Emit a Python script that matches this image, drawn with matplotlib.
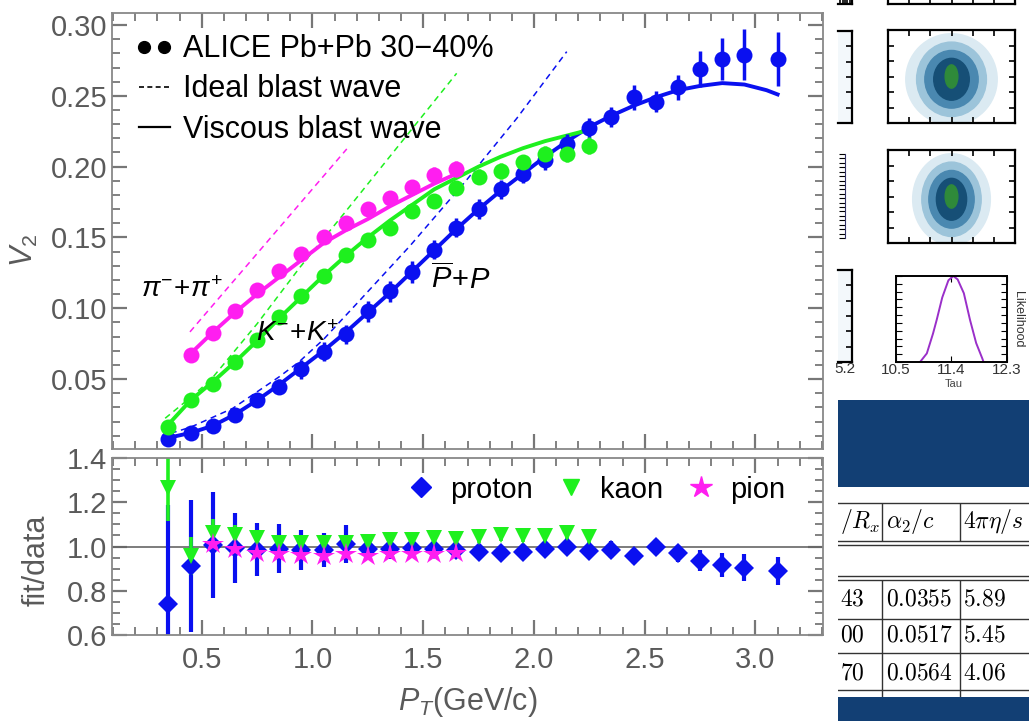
import numpy as np
import matplotlib.pyplot as plt
from matplotlib.lines import Line2D
from matplotlib.patches import Ellipse
from matplotlib.ticker import MultipleLocator
from matplotlib.legend_handler import HandlerLine2D

plt.rcParams['font.family'] = ['Liberation Sans', 'DejaVu Sans']
plt.rcParams['mathtext.fontset'] = 'custom'
plt.rcParams['mathtext.it'] = 'Liberation Sans:italic'
plt.rcParams['mathtext.rm'] = 'Liberation Sans'
plt.rcParams['mathtext.bf'] = 'Liberation Sans:bold'

# ---- v2 data (ALICE Pb+Pb 30-40%) ----
pt_p = [0.35, 0.45, 0.55, 0.65, 0.75, 0.85, 0.95, 1.05, 1.15, 1.25, 1.35, 1.45, 1.55, 1.65,
        1.75, 1.85, 1.95, 2.05, 2.15, 2.25, 2.35, 2.45, 2.55, 2.65, 2.75, 2.85, 2.95, 3.10]
v2_p = [0.0078, 0.012, 0.0165, 0.0246, 0.0352, 0.0446, 0.0568, 0.0692, 0.0815, 0.0979, 0.112,
        0.1256, 0.1413, 0.157, 0.170, 0.184, 0.195, 0.2047, 0.216, 0.2272, 0.235, 0.249, 0.246,
        0.256, 0.269, 0.276, 0.279, 0.276]
err_p = [0.004, 0.004, 0.004, 0.004, 0.0045, 0.0055, 0.0065, 0.0068, 0.007, 0.0075, 0.0075,
         0.0075, 0.0068, 0.0068, 0.0068, 0.0068, 0.0068, 0.007, 0.007, 0.0075, 0.007, 0.0088,
         0.0077, 0.009, 0.013, 0.0147, 0.018, 0.019]

pt_k = [0.35, 0.45, 0.55, 0.65, 0.75, 0.85, 0.95, 1.05, 1.15, 1.25, 1.35, 1.45, 1.55, 1.65,
        1.75, 1.85, 1.95, 2.05, 2.15, 2.25]
v2_k = [0.0164, 0.0352, 0.0463, 0.0618, 0.0775, 0.0939, 0.1087, 0.1225, 0.1373, 0.148, 0.1568,
        0.169, 0.176, 0.185, 0.193, 0.197, 0.203, 0.209, 0.209, 0.2148]
err_k = [0.003, 0.003, 0.003, 0.0035, 0.0035, 0.004, 0.004, 0.004, 0.0045, 0.0045, 0.0045,
         0.005, 0.005, 0.005, 0.0054, 0.0054, 0.0055, 0.0055, 0.006, 0.006]

pt_pi = [0.45, 0.55, 0.65, 0.75, 0.85, 0.95, 1.05, 1.15, 1.25, 1.35, 1.45, 1.55, 1.65]
v2_pi = [0.0669, 0.0826, 0.0979, 0.1127, 0.126, 0.1385, 0.150, 0.160, 0.170, 0.1777, 0.1854,
         0.1942, 0.1984]
err_pi = [0.003, 0.003, 0.0035, 0.004, 0.004, 0.0045, 0.0047, 0.005, 0.005, 0.0052, 0.0054,
          0.0055, 0.0056]

# viscous blast wave (solid)
visc_pt_p = [0.35, 0.45, 0.55, 0.65, 0.75, 0.85, 0.95, 1.05, 1.15, 1.25, 1.35, 1.45, 1.55, 1.65,
             1.75, 1.85, 1.95, 2.05, 2.15, 2.25, 2.35, 2.45, 2.55, 2.65, 2.75, 2.85, 2.95, 3.05, 3.10]
visc_p = [0.0085, 0.012, 0.017, 0.025, 0.035, 0.046, 0.058, 0.070, 0.083, 0.097, 0.111, 0.126,
          0.141, 0.156, 0.170, 0.183, 0.195, 0.207, 0.218, 0.228, 0.236, 0.243, 0.249, 0.254,
          0.257, 0.259, 0.258, 0.254, 0.251]
visc_k = [0.018, 0.035, 0.048, 0.062, 0.077, 0.093, 0.108, 0.123, 0.137, 0.150, 0.162, 0.173,
          0.184, 0.192, 0.200, 0.207, 0.213, 0.218, 0.222, 0.226]
visc_pi = [0.068, 0.083, 0.097, 0.110, 0.122, 0.134, 0.146, 0.155, 0.163, 0.172, 0.180, 0.188, 0.195]

# ideal blast wave (dashed)
ideal_pt_p = [0.36, 0.45, 0.64, 0.85, 0.94, 1.05, 1.215, 1.44, 1.693, 1.922, 2.148]
ideal_p = [0.0117, 0.016, 0.0293, 0.0516, 0.0622, 0.078, 0.1058, 0.144, 0.190, 0.234, 0.2812]
ideal_pt_k = [0.335, 0.45, 0.54, 0.75, 0.944, 1.14, 1.40, 1.651]
ideal_k = [0.0223, 0.037, 0.0493, 0.089, 0.129, 0.1664, 0.217, 0.2659]
ideal_pt_pi = [0.447, 1.155]
ideal_pi = [0.0833, 0.2125]

# ---- fit/data ratios ----
ratio_p = [0.738, 0.912, 1.008, 0.993, 0.985, 0.99, 0.985, 0.985, 1.01, 0.988, 0.99, 0.995,
           0.988, 0.985, 0.974, 0.97, 0.977, 0.988, 0.996, 0.98, 0.985, 0.955, 0.997, 0.97,
           0.936, 0.917, 0.905, 0.89]
rerr_p = [0.45, 0.30, 0.24, 0.16, 0.12, 0.11, 0.09, 0.078, 0.085, 0.05, 0.045, 0.045, 0.04,
          0.035, 0.03, 0.03, 0.03, 0.03, 0.03, 0.032, 0.038, 0.034, 0.036, 0.038, 0.047, 0.053,
          0.06, 0.064]
ratio_k = [1.265, 0.958, 1.06, 1.053, 1.038, 1.018, 1.015, 1.018, 1.018, 1.02, 1.03, 1.03, 1.04,
           1.035, 1.043, 1.053, 1.049, 1.049, 1.06, 1.045]
rerr_k = [0.15, 0.087, 0.065, 0.045, 0.035, 0.03, 0.03, 0.03, 0.03, 0.03, 0.03, 0.03, 0.03,
          0.03, 0.028, 0.03, 0.03, 0.03, 0.033, 0.03]
pt_rpi = [0.55, 0.65, 0.75, 0.85, 0.95, 1.05, 1.15, 1.25, 1.35, 1.45, 1.55, 1.65]
ratio_pi = [1.01, 0.988, 0.97, 0.966, 0.962, 0.958, 0.967, 0.958, 0.967, 0.967, 0.966, 0.972]
rerr_pi = [0.04, 0.03, 0.025, 0.02, 0.02, 0.02, 0.02, 0.02, 0.02, 0.02, 0.02, 0.02]

# likelihood curve in the side panel
tau = [10.89, 11.0, 11.1, 11.16, 11.25, 11.35, 11.43, 11.5, 11.6, 11.7, 11.8, 11.9, 11.92]
like = [0.0, 0.1, 0.33, 0.49, 0.75, 0.95, 1.0, 0.96, 0.8, 0.49, 0.22, 0.04, 0.0]

tab_header = ['$/R_x$', r'$\alpha_2/c$', r'$4\pi\eta/s$']
tab_rows = [['$43$', '$0.0355$', '$5.89$'],
            ['$00$', '$0.0517$', '$5.45$'],
            ['$70$', '$0.0564$', '$4.06$']]

BLUE = '#0a10f0'
GREEN = '#1ef01e'
MAG = '#ff1ef0'
GRAY = '#5a5a5a'

W, H = 1029, 721
fig = plt.figure(figsize=(W / 100, H / 100), dpi=100)


def box(x0, y0, x1, y1):
    return [x0 / W, 1 - y1 / H, (x1 - x0) / W, (y1 - y0) / H]


ax = fig.add_axes(box(112, 13, 823, 449))
ax2 = fig.add_axes(box(112, 458, 823, 635))


def style(a):
    a.tick_params(which='both', direction='in', top=True, right=True,
                  color='#777777', labelcolor=GRAY, labelsize=21)
    a.tick_params(which='major', length=11, width=1.6)
    a.tick_params(which='minor', length=5.5, width=1.3)
    for s in a.spines.values():
        s.set_color('#888888')
        s.set_linewidth(1.3)
    a.xaxis.set_major_locator(MultipleLocator(0.5))
    a.xaxis.set_minor_locator(MultipleLocator(0.1))
    a.set_xlim(0.095, 3.305)


style(ax)
style(ax2)

# top panel
ax.plot(ideal_pt_p, ideal_p, color=BLUE, lw=1.1, ls=(0, (4, 3)))
ax.plot(ideal_pt_k, ideal_k, color=GREEN, lw=1.1, ls=(0, (4, 3)))
ax.plot(ideal_pt_pi, ideal_pi, color=MAG, lw=1.1, ls=(0, (4, 3)))
ax.plot(visc_pt_p, visc_p, color=BLUE, lw=2.8)
ax.plot(visc_pt_p[:len(visc_k)], visc_k, color=GREEN, lw=2.8)
ax.plot(visc_pt_p[1:1 + len(visc_pi)], visc_pi, color=MAG, lw=2.8)
eb = dict(fmt='o', markersize=11.5, markeredgewidth=0, elinewidth=2.5, capsize=4.2, capthick=2.5)
ax.errorbar(pt_p, v2_p, yerr=err_p, color=BLUE, **eb)
ax.errorbar(pt_k, v2_k, yerr=err_k, color=GREEN, **eb)
ax.errorbar(pt_pi, v2_pi, yerr=err_pi, color=MAG, **eb)

ax.set_ylim(0.0006, 0.3085)
ax.yaxis.set_minor_locator(MultipleLocator(0.01))
ax.set_yticks([0.05, 0.10, 0.15, 0.20, 0.25, 0.30])
ax.set_yticklabels(['0.05', '0.10', '0.15', '0.20', '0.25', '0.30'])
ax.tick_params(labelbottom=False)
ax.set_ylabel('$V_2$', color=GRAY, fontsize=22)
ax.yaxis.set_label_coords(-0.101, 0.455)

ax.text(0.411, 0.113, r'$\pi^{-}\!+\!\pi^{+}$', fontsize=20, ha='center', va='center')
ax.text(0.931, 0.0818, r'$K^{-}\!+\!K^{+}$', fontsize=20, ha='center', va='center')
ax.text(1.67, 0.1206, r'$\overline{P}\!+\!P$', fontsize=21, ha='center', va='center')

dots = Line2D([], [], color='k', marker='o', ls='none', markersize=8.5)
handles = [dots,
           Line2D([], [], color='k', lw=1.2, ls=(0, (3, 2))),
           Line2D([], [], color='k', lw=1.6)]
ax.legend(handles, ['ALICE Pb+Pb 30\u221240%', 'Ideal blast wave', 'Viscous blast wave'],
          loc='upper left', bbox_to_anchor=(0.008, 1.0), frameon=False, fontsize=22,
          handlelength=1.0, handletextpad=0.45, labelspacing=0.33, borderaxespad=0.3,
          handler_map={dots: HandlerLine2D(numpoints=2, marker_pad=0.17)})

# bottom panel
ax2.axhline(1.0, color='#666666', lw=1.2)
ax2.errorbar(pt_p, ratio_p, yerr=rerr_p, fmt='D', color=BLUE, markersize=10, markeredgewidth=0,
             elinewidth=3, capsize=5, capthick=2.6, label='proton')
ax2.errorbar(pt_k, ratio_k, yerr=rerr_k, fmt='v', color=GREEN, markersize=11, markeredgewidth=0,
             elinewidth=2.6, capsize=5, capthick=2.6, label='kaon')
ax2.errorbar(pt_rpi, ratio_pi, yerr=rerr_pi, fmt='*', color=MAG, markersize=16, markeredgewidth=0,
             elinewidth=2.6, capsize=5, capthick=2.6, label='pion')
ax2.set_ylim(0.6, 1.4)
ax2.yaxis.set_minor_locator(MultipleLocator(0.05))
ax2.set_yticks([0.6, 0.8, 1.0, 1.2, 1.4])
ax2.set_yticklabels(['0.6', '0.8', '1.0', '1.2', '1.4'])
ax2.set_xticks([0.5, 1.0, 1.5, 2.0, 2.5, 3.0])
ax2.set_xticklabels(['0.5', '1.0', '1.5', '2.0', '2.5', '3.0'])
ax2.tick_params(axis='x', pad=8)
ax2.set_ylabel('fit/data', color=GRAY, fontsize=22)
ax2.yaxis.set_label_coords(-0.085, 0.42)
ax2.set_xlabel('$P_T$(GeV/c)', color=GRAY, fontsize=22)
ax2.xaxis.set_label_coords(0.5, -0.285)
lh = [Line2D([], [], color=BLUE, marker='D', ls='none', markersize=10),
      Line2D([], [], color=GREEN, marker='v', ls='none', markersize=11),
      Line2D([], [], color=MAG, marker='*', ls='none', markersize=16)]
ax2.legend(lh, ['proton', 'kaon', 'pion'], loc='upper right', bbox_to_anchor=(0.972, 1.0),
           ncol=3, frameon=False, fontsize=21, handlelength=1.0, handletextpad=0.5,
           columnspacing=0.8, borderaxespad=0.2)

# ---- side collage ----
def frame(a):
    a.set_xticks(np.linspace(0, 1, 7)[1:-1])
    a.set_yticks(np.linspace(0, 1, 7)[1:-1])
    a.set_xlim(0, 1)
    a.set_ylim(0, 1)
    a.tick_params(direction='in', top=True, right=True, length=4, width=1.2, color='k',
                  labelbottom=False, labelleft=False)
    for s in a.spines.values():
        s.set_linewidth(1.6)


for y0, y1, wide in [(30, 123, 1.0), (150, 243, 0.85)]:
    ai = fig.add_axes(box(888, y0, 1015, y1))
    frame(ai)
    ai.add_patch(Ellipse((0.5, 0.47), 0.72 * wide, 0.98, color='#dbeaf2'))
    ai.add_patch(Ellipse((0.5, 0.47), 0.55 * wide, 0.8, color='#9cc4da'))
    ai.add_patch(Ellipse((0.5, 0.47), 0.42 * wide, 0.62, color='#4a88b0'))
    ai.add_patch(Ellipse((0.5, 0.47), 0.28 * wide, 0.45, color='#164f76'))
    ai.add_patch(Ellipse((0.5, 0.5), 0.1, 0.25, color='#2f8a3a'))

# frame edges of the panels above, cut at the top of the picture
for x0, x1 in [(838, 852), (888, 1015)]:
    ac = fig.add_axes(box(x0, -30, x1, 4))
    frame(ac)
    ac.spines['top'].set_visible(False)
    if x0 == 838:
        ac.spines['left'].set_visible(False)
        ac.tick_params(left=False)

for y0, y1 in [(31, 123), (270, 362)]:
    ae = fig.add_axes(box(838, y0, 852, y1))
    ae.set_xticks([])
    ae.set_yticks(np.linspace(0, 1, 7)[1:-1])
    ae.tick_params(direction='in', left=False, right=True, labelleft=False, length=4,
                   width=1.2, color='k')
    ae.spines['left'].set_visible(False)
    for s in ae.spines.values():
        s.set_linewidth(1.6)
    ae.set_facecolor('#f3f8fb')
ar = fig.add_axes(box(838, 154, 845, 238))
ar.set_xticks([])
ar.set_yticks(np.linspace(0, 1, 20))
ar.tick_params(direction='in', right=True, left=False, labelleft=False, length=4, color='k')
for s in ['left', 'top', 'bottom']:
    ar.spines[s].set_visible(False)
ar.spines['right'].set_color('#333366')
fig.text(845 / W, 1 - 373 / H, '5.2', fontsize=11, ha='center', color='#333333')

al = fig.add_axes(box(896, 276, 1007, 362))
al.plot(tau, like, color='#9a2fc9', lw=1.4)
al.set_xlim(10.5, 12.3)
al.set_ylim(0, 1.0)
al.set_xticks([10.5, 11.4, 12.3])
al.set_xticklabels(['10.5', '11.4', '12.3'])
al.set_yticks(np.linspace(0, 1, 12))
al.tick_params(direction='in', top=True, right=True, labelleft=False, labelsize=11,
               labelcolor='#333333', length=4, pad=1)
al.yaxis.set_label_position('right')
al.set_ylabel('Likelihood', fontsize=9, rotation=270, labelpad=12, color='#333333')
for s in al.spines.values():
    s.set_linewidth(1.4)
fig.text(954 / W, 1 - 384 / H, 'Tau', fontsize=8, ha='center', va='center', color='#444444')

for y0, y1 in [(400, 487), (697, 721)]:
    ab = fig.add_axes(box(838, y0, W, y1))
    ab.set_facecolor('#123f74')
    ab.set_xticks([])
    ab.set_yticks([])
    for s in ab.spines.values():
        s.set_visible(False)

at = fig.add_axes(box(838, 490, W, 697))
at.set_xlim(0, W - 838)
at.set_ylim(207, 0)
at.axis('off')
for yy in [13, 51, 55, 86, 90, 129, 163, 200]:
    at.axhline(yy, color='#333333', lw=1.0)
for xx in [44, 122]:
    at.vlines(xx, 13, 51, color='#333333', lw=1.0)
    at.vlines(xx, 90, 207, color='#333333', lw=1.0)
col_x = [2, 48, 125]
for j, t in enumerate(tab_header):
    at.text(col_x[j], 32, t, fontsize=17, va='center', math_fontfamily='cm')
for i, row in enumerate(tab_rows):
    for j, t in enumerate(row):
        at.text(col_x[j], 109 + 37 * i, t, fontsize=17, va='center', math_fontfamily='cm')

fig.savefig('out.png', dpi=100)
